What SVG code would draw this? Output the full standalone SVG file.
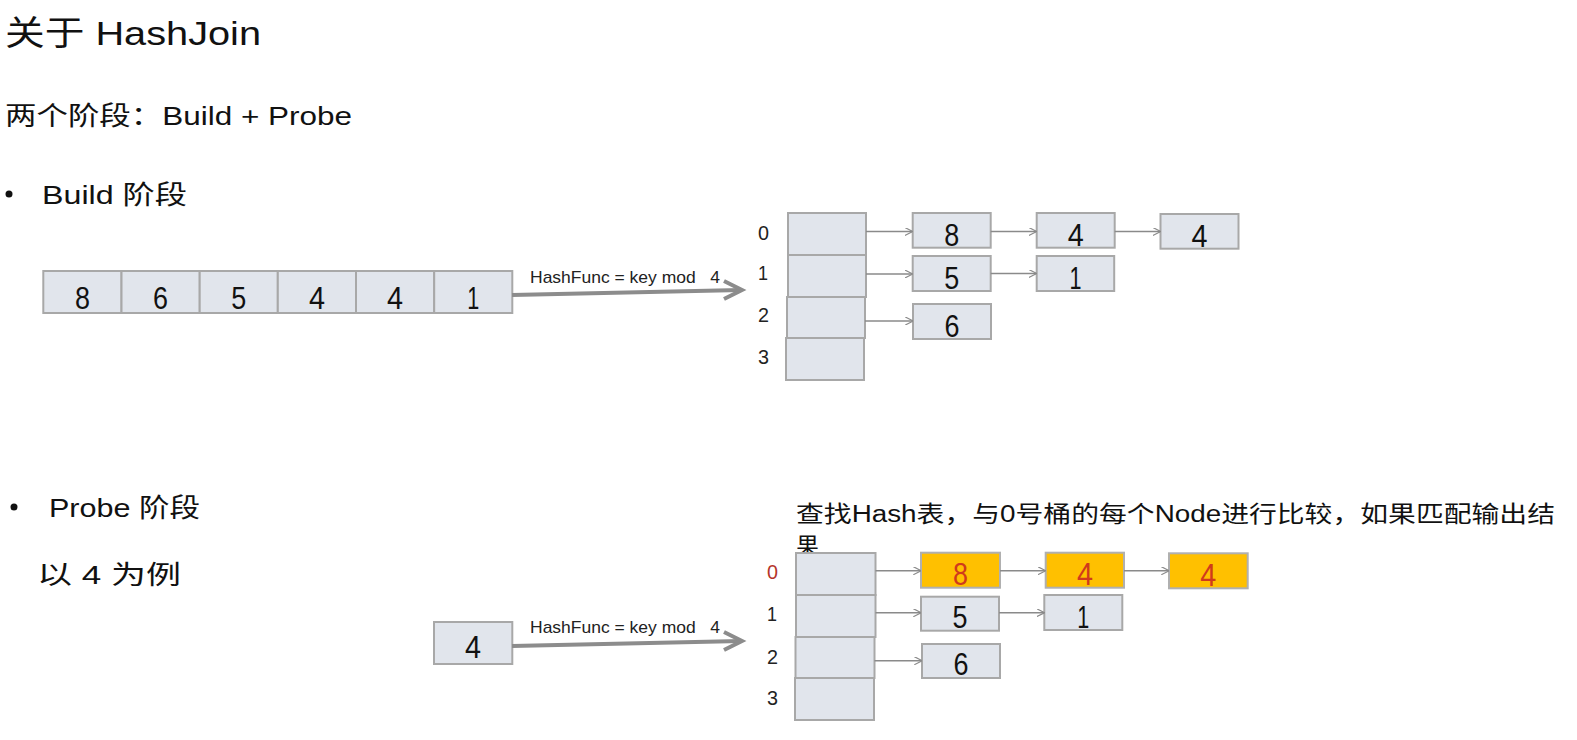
<svg xmlns="http://www.w3.org/2000/svg" width="1577" height="740" viewBox="0 0 1577 740">
<defs>
<style>
.c{font-family:"Liberation Sans","Noto Sans CJK SC",sans-serif;fill:#111;}
.box{fill:#e1e5ec;stroke:#a8a8a8;stroke-width:2;}
.hl{fill:#ffc000;stroke:#b0b0b0;stroke-width:2;}
.num{font-family:"Liberation Sans",sans-serif;font-size:32px;fill:#111;text-anchor:middle;}
.rnum{font-family:"Liberation Sans",sans-serif;font-size:32px;fill:#d03a1c;text-anchor:middle;}
.idx{font-family:"Liberation Sans",sans-serif;font-size:21px;fill:#222;}
.ridx{font-family:"Liberation Sans",sans-serif;font-size:21px;fill:#b5352a;}
.lnk{stroke:#8a8a8a;stroke-width:1.5;fill:none;marker-end:url(#ah);}
.big{stroke:#8c8c8c;stroke-width:4;fill:none;}
.lbl{font-family:"Liberation Sans",sans-serif;font-size:17px;fill:#222;}
</style>
<marker id="ah" viewBox="0 0 10 10" refX="9" refY="5" markerWidth="8" markerHeight="8" markerUnits="userSpaceOnUse" orient="auto">
<path d="M0,0 L10,5 L0,10" fill="none" stroke="#8a8a8a" stroke-width="1.5"/>
</marker>
</defs>
<rect width="1577" height="740" fill="#ffffff"/>

<g id="headings">
<text class="c" x="5" y="45" font-size="34" textLength="256" lengthAdjust="spacingAndGlyphs">关于 HashJoin</text>
<text class="c" x="5" y="125" font-size="26" textLength="347" lengthAdjust="spacingAndGlyphs">两个阶段：Build + Probe</text>
<circle cx="9" cy="194" r="3.5" fill="#111"/>
<text class="c" x="42" y="204" font-size="26" textLength="145" lengthAdjust="spacingAndGlyphs">Build 阶段</text>
<circle cx="14" cy="507" r="3.5" fill="#111"/>
<text class="c" x="49" y="517" font-size="26" textLength="151" lengthAdjust="spacingAndGlyphs">Probe 阶段</text>
<text class="c" x="37" y="584" font-size="26" textLength="144" lengthAdjust="spacingAndGlyphs">以 4 为例</text>
</g>

<g id="build-input">
<rect class="box" x="43.3" y="271" width="78.2" height="42"/>
<rect class="box" x="121.5" y="271" width="78.2" height="42"/>
<rect class="box" x="199.7" y="271" width="78.1" height="42"/>
<rect class="box" x="277.8" y="271" width="78.2" height="42"/>
<rect class="box" x="356" y="271" width="78.2" height="42"/>
<rect class="box" x="434.2" y="271" width="78.1" height="42"/>
<text class="num" x="82.4" y="309" textLength="15" lengthAdjust="spacingAndGlyphs">8</text>
<text class="num" x="160.6" y="309" textLength="15" lengthAdjust="spacingAndGlyphs">6</text>
<text class="num" x="238.8" y="309" textLength="15" lengthAdjust="spacingAndGlyphs">5</text>
<text class="num" x="316.9" y="309" textLength="16" lengthAdjust="spacingAndGlyphs">4</text>
<text class="num" x="395.1" y="309" textLength="16" lengthAdjust="spacingAndGlyphs">4</text>
<text class="num" x="473.2" y="309" textLength="12" lengthAdjust="spacingAndGlyphs">1</text>
</g>

<g id="build-table">
<rect class="box" x="788" y="213" width="78" height="42"/>
<rect class="box" x="788" y="255" width="78" height="42"/>
<rect class="box" x="787" y="297" width="78" height="41"/>
<rect class="box" x="786" y="338" width="78" height="42"/>
<text class="idx" x="758" y="240" textLength="11" lengthAdjust="spacingAndGlyphs">0</text>
<text class="idx" x="758" y="280" textLength="10" lengthAdjust="spacingAndGlyphs">1</text>
<text class="idx" x="758" y="322" textLength="11" lengthAdjust="spacingAndGlyphs">2</text>
<text class="idx" x="758" y="364" textLength="11" lengthAdjust="spacingAndGlyphs">3</text>
</g>
<g id="build-node-8"><rect class="box" x="912.7" y="213" width="78" height="34.7"/><text class="num" x="951.7" y="246" textLength="15" lengthAdjust="spacingAndGlyphs">8</text></g>
<g id="build-node-4a"><rect class="box" x="1036.7" y="213" width="78" height="34.7"/><text class="num" x="1075.7" y="246" textLength="16" lengthAdjust="spacingAndGlyphs">4</text></g>
<g id="build-node-4b"><rect class="box" x="1160.5" y="214" width="78" height="34.7"/><text class="num" x="1199.5" y="247" textLength="16" lengthAdjust="spacingAndGlyphs">4</text></g>
<g id="build-node-5"><rect class="box" x="912.7" y="256" width="78" height="35"/><text class="num" x="951.7" y="289" textLength="15" lengthAdjust="spacingAndGlyphs">5</text></g>
<g id="build-node-1"><rect class="box" x="1036.7" y="256" width="77.5" height="35"/><text class="num" x="1075.5" y="289" textLength="12" lengthAdjust="spacingAndGlyphs">1</text></g>
<g id="build-node-6"><rect class="box" x="913" y="304" width="78" height="35"/><text class="num" x="952" y="337" textLength="15" lengthAdjust="spacingAndGlyphs">6</text></g>

<g id="probe-text">
<text class="c" x="796" y="522" font-size="23" textLength="759" lengthAdjust="spacingAndGlyphs">查找Hash表，与0号桶的每个Node进行比较，如果匹配输出结</text>
<text class="c" x="796" y="554" font-size="23">果</text>
</g>

<g id="probe-input"><rect class="box" x="434" y="622" width="78.3" height="42"/><text class="num" x="473" y="658" textLength="16" lengthAdjust="spacingAndGlyphs">4</text></g>

<g id="probe-table">
<rect class="box" x="796" y="553" width="79.5" height="42"/>
<rect class="box" x="796" y="595" width="79.5" height="42"/>
<rect class="box" x="795.5" y="637" width="79" height="41"/>
<rect class="box" x="795" y="678" width="79" height="42"/>
<text class="ridx" x="767" y="579" textLength="11" lengthAdjust="spacingAndGlyphs">0</text>
<text class="idx" x="767" y="621" textLength="10" lengthAdjust="spacingAndGlyphs">1</text>
<text class="idx" x="767" y="664" textLength="11" lengthAdjust="spacingAndGlyphs">2</text>
<text class="idx" x="767" y="705" textLength="11" lengthAdjust="spacingAndGlyphs">3</text>
</g>
<g id="probe-node-8"><rect class="hl" x="921" y="552.7" width="79" height="35"/><text class="rnum" x="960.5" y="585" textLength="15" lengthAdjust="spacingAndGlyphs">8</text></g>
<g id="probe-node-4a"><rect class="hl" x="1045.7" y="552.7" width="78.3" height="35"/><text class="rnum" x="1085" y="585" textLength="16" lengthAdjust="spacingAndGlyphs">4</text></g>
<g id="probe-node-4b"><rect class="hl" x="1169" y="553.3" width="78.7" height="35"/><text class="rnum" x="1208.3" y="586" textLength="16" lengthAdjust="spacingAndGlyphs">4</text></g>
<g id="probe-node-5"><rect class="box" x="921" y="596.7" width="78" height="34"/><text class="num" x="960" y="628" textLength="15" lengthAdjust="spacingAndGlyphs">5</text></g>
<g id="probe-node-1"><rect class="box" x="1044.3" y="595" width="78" height="35"/><text class="num" x="1083.3" y="628" textLength="12" lengthAdjust="spacingAndGlyphs">1</text></g>
<g id="probe-node-6"><rect class="box" x="922" y="644" width="78" height="34"/><text class="num" x="961" y="675" textLength="15" lengthAdjust="spacingAndGlyphs">6</text></g>

<g id="connectors">
<line class="big" x1="512" y1="295" x2="741" y2="290"/>
<polyline class="big" points="724,281 742,290 724,299"/>
<text class="lbl" x="530" y="283" textLength="190" lengthAdjust="spacingAndGlyphs">HashFunc = key mod &#160; 4</text>
<line class="big" x1="512" y1="646" x2="741" y2="641"/>
<polyline class="big" points="724,632 742,641 724,650"/>
<text class="lbl" x="530" y="633" textLength="190" lengthAdjust="spacingAndGlyphs">HashFunc = key mod &#160; 4</text>

<line class="lnk" x1="866" y1="231.5" x2="912" y2="231.5"/>
<line class="lnk" x1="990.7" y1="231.5" x2="1036" y2="231.5"/>
<line class="lnk" x1="1114.7" y1="231.5" x2="1160" y2="231.5"/>
<line class="lnk" x1="866" y1="274" x2="912" y2="274"/>
<line class="lnk" x1="990.7" y1="273.5" x2="1036" y2="273.5"/>
<line class="lnk" x1="865" y1="321" x2="912.5" y2="321"/>

<line class="lnk" x1="875.5" y1="570.7" x2="920.5" y2="570.7"/>
<line class="lnk" x1="1000" y1="570.7" x2="1045" y2="570.7"/>
<line class="lnk" x1="1124" y1="570.7" x2="1168.5" y2="570.7"/>
<line class="lnk" x1="875.5" y1="612.7" x2="920.5" y2="612.7"/>
<line class="lnk" x1="999" y1="612.7" x2="1043.8" y2="612.7"/>
<line class="lnk" x1="874.5" y1="660.7" x2="921.5" y2="660.7"/>
</g>
</svg>
